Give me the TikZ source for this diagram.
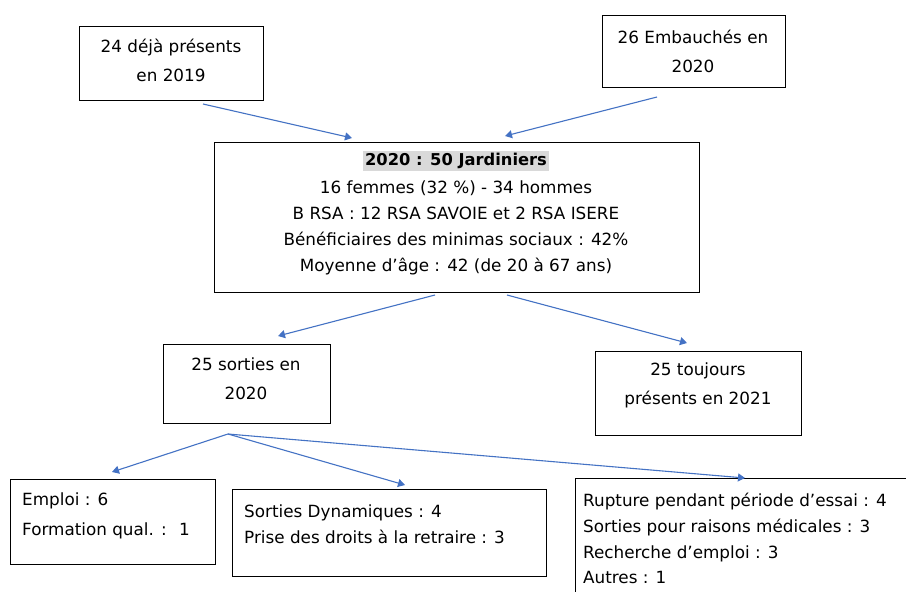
\documentclass[tikz,border=0pt]{standalone}
\usepackage{fontspec}
\setmainfont{DejaVu Sans}
\usetikzlibrary{arrows.meta}
\definecolor{arr}{RGB}{68,114,196}
\definecolor{hl}{RGB}{217,217,217}
\begin{document}
\begin{tikzpicture}[x=1pt,y=-1pt,
  box/.style={draw, line width=0.9pt, anchor=north west, inner sep=0pt},
  conn/.style={draw=arr, line width=1.1pt, -{Triangle[width=8pt,length=7pt]}},
  txt/.style={font=\fontsize{16.8}{29}\selectfont, align=center, inner sep=0pt},
  ltxt/.style={font=\fontsize{16.8}{26}\selectfont, align=left, inner sep=0pt, anchor=north west}]
\useasboundingbox (0,0) rectangle (906,592);
\fill[white] (0,0) rectangle (906,592);
% boxes
\node[box, minimum width=184pt, minimum height=74pt] (a) at (79,26) {};
\node[box, minimum width=183pt, minimum height=72pt] (b) at (602,15) {};
\node[box, minimum width=485pt, minimum height=150pt] (m) at (214,142) {};
\node[box, minimum width=167pt, minimum height=79pt] (s) at (163,344) {};
\node[box, minimum width=206pt, minimum height=84pt] (t) at (595,351) {};
\node[box, minimum width=205pt, minimum height=85pt] (e) at (10,479) {};
\node[box, minimum width=314pt, minimum height=87pt] (d) at (232,489) {};
\node[box, minimum width=340pt, minimum height=130pt] (r) at (575,478) {};
% texts
\node[txt] (at) at (171,60) {24 déjà présents\\en 2019};
\node[txt] (bt) at (693,51) {26 Embauchés en\\2020};
\node[txt] (st) at (246,379) {25 sorties en\\2020};
\node[txt] (tt) at (698,385) {25 toujours\\présents en 2021};
\node[fill=hl, inner sep=2.5pt, font=\fontsize{16.3}{18}\selectfont\bfseries] (mt) at (456,161) {2020 : 50 Jardiniers};
\node[txt, font=\fontsize{16.8}{25.7}\selectfont, anchor=north] (mb) at (456,181) {16 femmes (32 \%) - 34 hommes\\B RSA : 12 RSA SAVOIE et 2 RSA ISERE\\Bénéficiaires des minimas sociaux : 42\%\\Moyenne d'âge : 42 (de 20 à 67 ans)};
\node[ltxt, font=\fontsize{16.8}{30}\selectfont] (et) at (22,493) {Emploi : 6\\Formation qual. :~ 1};
\node[ltxt] (dt) at (244,505) {Sorties Dynamiques : 4\\Prise des droits à la retraire : 3};
\node[ltxt, font=\fontsize{16.8}{25.7}\selectfont] (rt) at (583,493) {Rupture pendant période d'essai : 4\\Sorties pour raisons médicales : 3\\Recherche d'emploi : 3\\Autres : 1};
% connector points
\coordinate (a1) at (203,104);
\coordinate (m1) at (352,138);
\coordinate (b1) at (657,97);
\coordinate (m2) at (505,136);
\coordinate (m3) at (435,295);
\coordinate (s1) at (278,336);
\coordinate (m4) at (507,295);
\coordinate (t1) at (687,343);
\coordinate (f) at (228,434);
\coordinate (e1) at (112,472);
\coordinate (d1) at (405,485);
\coordinate (r1) at (745,478);
\draw[conn] (a1) -- (m1);
\draw[conn] (b1) -- (m2);
\draw[conn] (m3) -- (s1);
\draw[conn] (m4) -- (t1);
\draw[conn] (f) -- (e1);
\draw[conn] (f) -- (d1);
\draw[conn] (f) -- (r1);
\end{tikzpicture}
\end{document}
